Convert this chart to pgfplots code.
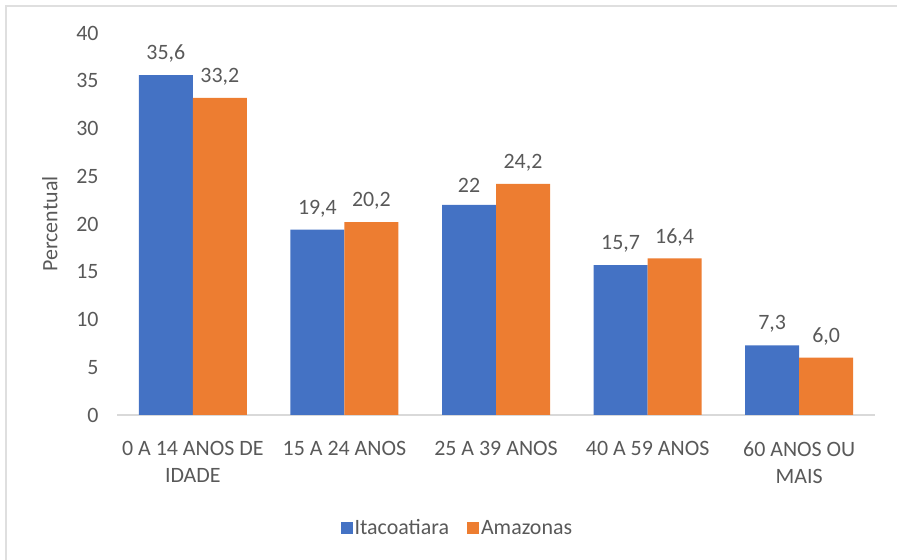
\documentclass[border=0pt]{standalone}
\usepackage{pgfplots}
\pgfplotsset{compat=1.18}
\usepackage{pgfplotstable}
\usepackage{fontspec}
\setmainfont{Carlito}
\definecolor{cblue}{HTML}{4472C4}
\definecolor{corange}{HTML}{ED7D31}
\definecolor{ctext}{HTML}{595959}
\definecolor{caxis}{HTML}{D9D9D9}
\pgfplotstableread{
x ita itl ama aml
0 35.6 35,6 33.2 33,2
1 19.4 19,4 20.2 20,2
2 22.0 22 24.2 24,2
3 15.7 15,7 16.4 16,4
4 7.3 7,3 6.0 6,0
}\datatable
\begin{document}
\begin{tikzpicture}[x=1bp,y=1bp]
\path[use as bounding box] (0,0) rectangle (897,560);
\draw[gray!25, line width=1.5bp] (6,0) -- (6,554) -- (897,554);
\begin{axis}[
  at={(117bp,145bp)}, anchor=south west,
  scale only axis, width=758bp, height=382bp,
  ymin=0, ymax=40, ytick={0,5,...,40},
  xmin=-0.5, xmax=4.5, xtick=data,
  xticklabels={{0 A 14 ANOS DE\\IDADE},{15 A 24 ANOS},{25 A 39 ANOS},{40 A 59 ANOS},{60 ANOS OU\\MAIS}},
  xticklabel style={align=center, font=\fontsize{22}{27}\selectfont, text=ctext, yshift=-23bp},
  yticklabel style={font=\fontsize{22}{24}\selectfont, text=ctext, xshift=-15bp},
  /pgf/number format/assume math mode=true,
  axis y line*=left, axis x line*=bottom,
  y axis line style={draw=none},
  x axis line style={draw=caxis, line width=1.2bp},
  major tick length=0pt,
  ylabel={Percentual},
  ylabel style={font=\fontsize{22}{24}\selectfont, text=ctext, yshift=12bp},
  ybar=0pt, bar width=54bp,
  nodes near coords,
  point meta=explicit symbolic,
  every node near coord/.append style={font=\fontsize{22}{24}\selectfont, text=ctext, anchor=south, yshift=9bp},
  legend style={at={(0.449,-0.296)}, anchor=center, draw=none, legend columns=2,
    font=\fontsize{22}{24}\selectfont, text=ctext,
    /tikz/every even column/.append style={column sep=16bp}},
  legend image code/.code={\fill[#1] (0bp,-6bp) rectangle (12bp,6bp);},
]
\addplot[fill=cblue, draw=none] table[x=x, y=ita, meta=itl] {\datatable};
\addplot[fill=corange, draw=none] table[x=x, y=ama, meta=aml] {\datatable};
\legend{Itacoatiara, Amazonas}
\end{axis}
\end{tikzpicture}
\end{document}
